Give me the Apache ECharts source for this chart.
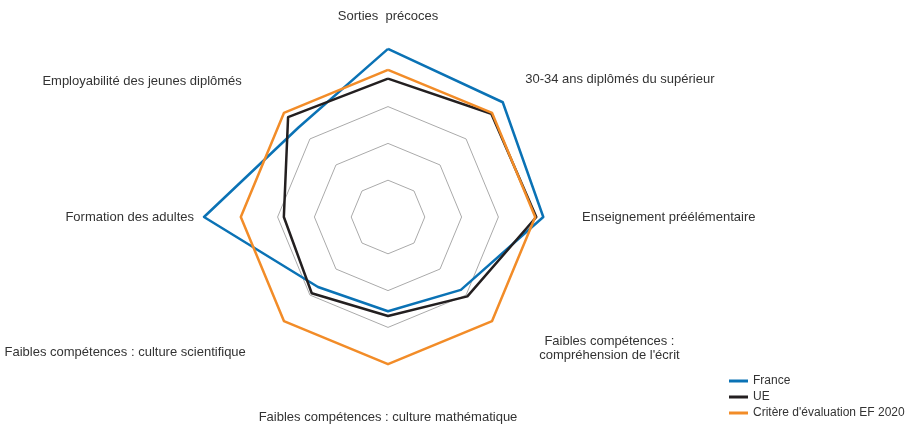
<!DOCTYPE html>
<html>
<head>
<meta charset="utf-8">
<script src="https://cdn.jsdelivr.net/npm/echarts@6/dist/echarts.min.js"></script>
<style>
  html, body { margin: 0; padding: 0; background: #fff; }
  #radar-chart { width: 913px; height: 425px; }
</style>
</head>
<body>
<div id="radar-chart"></div>
<script>
// axes listed counterclockwise from the top (ECharts radar order)
var indicators = [
    'Sorties  précoces',
    'Employabilité des jeunes diplômés',
    'Formation des adultes',
    'Faibles compétences : culture scientifique',
    'Faibles compétences : culture mathématique',
    'Faibles compétences :\ncompréhension de l\'écrit',
    'Enseignement préélémentaire',
    '30-34 ans diplômés du supérieur'
];
var france = [4.57, 3.44, 5.0, 2.69, 2.56, 2.80, 4.22, 4.41];
var ue = [3.76, 3.84, 2.83, 2.93, 2.69, 3.05, 4.03, 3.97];
var critere = [4, 4, 4, 4, 4, 4, 4, 4];
var seriesNames = ['France', 'UE', 'Critère d\'évaluation EF 2020'];

radarChart();

function radarChart(){
	var myRadar = echarts.init(document.getElementById('radar-chart'));
	var font = "'Liberation Sans Narrow', 'Arial Narrow', 'Liberation Sans', sans-serif";
	var base = { fontFamily: font, fontSize: 13, color: '#333' };
	var option = {
		    animation: false,
		    color: ['#0a72b5', '#231f20', '#f28c28'],
		    legend: {
		        orient: 'vertical',
		        left: 729,
		        top: 375,
		        padding: 0,
		        icon: 'rect',
		        itemWidth: 19,
		        itemHeight: 3,
		        itemGap: 4,
		        textStyle: { fontFamily: font, fontSize: 12, color: '#333', padding: [0, 0, 0, 0] },
		        data: seriesNames
		    },
		    radar: {
		        center: [388, 217],
		        radius: 184,
		        shape: 'polygon',
		        splitNumber: 5,
		        indicator: indicators.map(function (n) { return { name: n, min: 0, max: 5 }; }),
		        axisNameGap: 10,
		        axisName: {
		            color: '#333',
		            fontFamily: font,
		            fontSize: 13,
		            formatter: function (name) {
		                if (name.indexOf('\n') >= 0) {
		                    var parts = name.split('\n');
		                    return '{c|' + parts[0] + '}\n{c|' + parts[1] + '}\n{z| }';
		                }
		                if (name === indicators[1]) return '{e|' + name + '}';
		                if (name === indicators[3]) return '{s|' + name + '}';
		                return name;
		            },
		            rich: {
		                c: Object.assign({ align: 'center', lineHeight: 14, padding: [0, 0, 0, 14] }, base),
		                z: Object.assign({ lineHeight: 12 }, base),
		                e: Object.assign({ padding: [3, 9, 0, 0] }, base),
		                s: Object.assign({ padding: [0, 5, 4, 0] }, base)
		            }
		        },
		        axisLine: { show: false },
		        axisTick: { show: false },
		        splitArea: { show: false },
		        splitLine: {
		            lineStyle: {
		                color: ['#aaaaaa', '#aaaaaa', '#aaaaaa', '#aaaaaa', 'rgba(0,0,0,0)', 'rgba(0,0,0,0)'],
		                width: 1
		            }
		        }
		    },
		    series: [
		        {
		            type: 'radar',
		            symbol: 'none',
		            lineStyle: { width: 2.5 },
		            data: [
		                { name: seriesNames[0], value: france },
		                { name: seriesNames[1], value: ue },
		                { name: seriesNames[2], value: critere }
		            ]
		        }
		    ]
		};
	myRadar.setOption(option);
}
</script>
</body>
</html>
